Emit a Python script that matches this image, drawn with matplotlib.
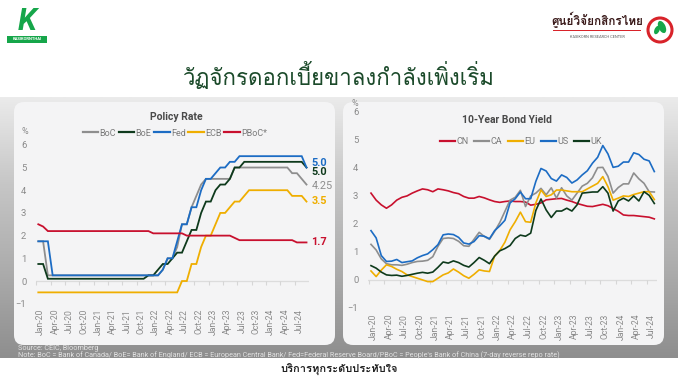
import numpy as np
import matplotlib
matplotlib.use("Agg")
import matplotlib.pyplot as plt
from matplotlib.patches import FancyBboxPatch, Rectangle, Circle, Ellipse
from matplotlib.colors import LinearSegmentedColormap
from matplotlib import font_manager as fm

# ---------------- data ----------------
tick_labels = ["Jan-20", "Apr-20", "Jul-20", "Oct-20", "Jan-21", "Apr-21", "Jul-21",
               "Oct-21", "Jan-22", "Apr-22", "Jul-22", "Oct-22", "Jan-23", "Apr-23",
               "Jul-23", "Oct-23", "Jan-24", "Apr-24", "Jul-24"]

# Policy rates, monthly Jan-20 .. Sep-24 (%)
boc = [1.75, 1.75, 0.25, 0.25, 0.25, 0.25, 0.25, 0.25, 0.25, 0.25,
       0.25, 0.25, 0.25, 0.25, 0.25, 0.25, 0.25, 0.25, 0.25, 0.25,
       0.25, 0.25, 0.25, 0.25, 0.25, 0.25, 0.5, 1.0, 1.0, 1.5,
       2.5, 2.5, 3.25, 3.75, 4.25, 4.5, 4.5, 4.5, 4.5, 4.5,
       4.5, 5.0, 5.0, 5.0, 5.0, 5.0, 5.0, 5.0, 5.0, 5.0,
       5.0, 5.0, 5.0, 4.75, 4.75, 4.5, 4.25]
boe = [0.75, 0.75, 0.1, 0.1, 0.1, 0.1, 0.1, 0.1, 0.1, 0.1,
       0.1, 0.1, 0.1, 0.1, 0.1, 0.1, 0.1, 0.1, 0.1, 0.1,
       0.1, 0.1, 0.1, 0.25, 0.25, 0.5, 0.75, 0.75, 1.0, 1.25,
       1.25, 1.75, 2.25, 2.25, 3.0, 3.5, 3.5, 4.0, 4.25, 4.25,
       4.5, 5.0, 5.0, 5.25, 5.25, 5.25, 5.25, 5.25, 5.25, 5.25,
       5.25, 5.25, 5.25, 5.25, 5.25, 5.25, 5.0]
fed = [1.75, 1.75, 1.75, 0.25, 0.25, 0.25, 0.25, 0.25, 0.25, 0.25,
       0.25, 0.25, 0.25, 0.25, 0.25, 0.25, 0.25, 0.25, 0.25, 0.25,
       0.25, 0.25, 0.25, 0.25, 0.25, 0.25, 0.5, 1.0, 1.0, 1.75,
       2.5, 2.5, 3.25, 3.25, 4.0, 4.5, 4.5, 4.75, 5.0, 5.0,
       5.25, 5.25, 5.5, 5.5, 5.5, 5.5, 5.5, 5.5, 5.5, 5.5,
       5.5, 5.5, 5.5, 5.5, 5.5, 5.5, 5.0]
ecb = [-0.5, -0.5, -0.5, -0.5, -0.5, -0.5, -0.5, -0.5, -0.5, -0.5,
       -0.5, -0.5, -0.5, -0.5, -0.5, -0.5, -0.5, -0.5, -0.5, -0.5,
       -0.5, -0.5, -0.5, -0.5, -0.5, -0.5, -0.5, -0.5, -0.5, -0.5,
       0.0, 0.0, 0.75, 0.75, 1.5, 2.0, 2.0, 2.5, 3.0, 3.0,
       3.25, 3.5, 3.5, 3.75, 4.0, 4.0, 4.0, 4.0, 4.0, 4.0,
       4.0, 4.0, 4.0, 3.75, 3.75, 3.75, 3.5]
pboc = [2.5, 2.4, 2.2, 2.2, 2.2, 2.2, 2.2, 2.2, 2.2, 2.2,
        2.2, 2.2, 2.2, 2.2, 2.2, 2.2, 2.2, 2.2, 2.2, 2.2,
        2.2, 2.2, 2.2, 2.2, 2.1, 2.1, 2.1, 2.1, 2.1, 2.1,
        2.1, 2.0, 2.0, 2.0, 2.0, 2.0, 2.0, 2.0, 2.0, 2.0,
        2.0, 1.9, 1.8, 1.8, 1.8, 1.8, 1.8, 1.8, 1.8, 1.8,
        1.8, 1.8, 1.8, 1.8, 1.7, 1.7, 1.7]
policy_names = ["BoC", "BoE", "Fed", "ECB", "PBoC*"]
policy_end_labels = ["4.25", "5.0", "5.0", "3.5", "1.7"]

# 10-year bond yields, monthly Jan-20 .. Aug-24 (%)
cn = [3.10, 2.85, 2.68, 2.56, 2.68, 2.85, 2.95, 3.00, 3.10, 3.18,
      3.25, 3.22, 3.15, 3.25, 3.22, 3.18, 3.12, 3.08, 2.98, 2.92,
      2.92, 2.98, 2.93, 2.86, 2.80, 2.77, 2.80, 2.82, 2.80, 2.80,
      2.78, 2.67, 2.70, 2.75, 2.86, 2.88, 2.90, 2.91, 2.85, 2.80,
      2.73, 2.68, 2.63, 2.62, 2.66, 2.70, 2.65, 2.55, 2.45, 2.32,
      2.30, 2.30, 2.28, 2.26, 2.24, 2.18]
ca = [1.27, 1.07, 0.75, 0.58, 0.54, 0.54, 0.52, 0.56, 0.62, 0.66,
      0.67, 0.70, 0.83, 1.20, 1.48, 1.50, 1.48, 1.38, 1.22, 1.20,
      1.45, 1.70, 1.55, 1.45, 1.73, 2.05, 2.45, 2.85, 2.95, 3.20,
      2.62, 3.00, 3.10, 3.27, 3.04, 3.29, 2.92, 3.29, 3.00, 2.85,
      3.10, 3.35, 3.45, 3.65, 4.01, 4.02, 3.70, 3.10, 3.30, 3.43,
      3.43, 3.82, 3.61, 3.45, 3.15, 3.14]
eu = [0.32, 0.12, 0.35, 0.54, 0.48, 0.38, 0.30, 0.18, 0.12, 0.06,
      0.00, -0.06, -0.06, 0.06, 0.18, 0.25, 0.39, 0.28, 0.15, 0.06,
      0.20, 0.36, 0.32, 0.30, 0.85, 1.05, 1.35, 1.79, 2.08, 2.42,
      2.08, 2.06, 2.75, 3.21, 2.98, 3.04, 3.21, 3.21, 3.18, 3.15,
      3.15, 3.15, 3.25, 3.35, 3.45, 3.69, 3.33, 2.85, 2.92, 3.00,
      2.98, 3.05, 3.10, 3.15, 3.15, 2.87]
us = [1.76, 1.50, 0.87, 0.66, 0.67, 0.73, 0.62, 0.65, 0.68, 0.79,
      0.87, 0.93, 1.08, 1.26, 1.61, 1.64, 1.62, 1.52, 1.32, 1.28,
      1.37, 1.58, 1.56, 1.47, 1.76, 1.93, 2.13, 2.75, 2.90, 3.14,
      2.90, 2.90, 3.52, 3.98, 3.89, 3.62, 3.53, 3.75, 3.66, 3.46,
      3.57, 3.75, 3.90, 4.17, 4.38, 4.80, 4.50, 4.02, 4.06, 4.21,
      4.21, 4.54, 4.48, 4.31, 4.25, 3.87]
uk = [0.51, 0.42, 0.28, 0.18, 0.16, 0.17, 0.13, 0.16, 0.20, 0.24,
      0.27, 0.24, 0.28, 0.45, 0.64, 0.60, 0.68, 0.62, 0.52, 0.46,
      0.62, 0.80, 0.70, 0.58, 0.85, 1.04, 1.12, 1.23, 1.48, 1.60,
      1.56, 1.67, 2.48, 2.89, 2.50, 2.23, 2.46, 2.46, 2.56, 2.46,
      2.68, 3.10, 3.12, 3.14, 3.14, 3.33, 3.10, 2.46, 2.82, 2.92,
      2.82, 3.00, 2.82, 3.15, 3.02, 2.73]
bond_names = ["CN", "CA", "EU", "US", "UK"]

# ---------------- fonts ----------------
def find_thai_font():
    try:
        from fontTools.ttLib import TTFont
    except Exception:
        return None
    seen = set()
    for f in fm.fontManager.ttflist:
        if f.fname in seen:
            continue
        seen.add(f.fname)
        try:
            tt = TTFont(f.fname, fontNumber=0, lazy=True)
            cm = tt.getBestCmap()
            if cm and 0x0E01 in cm and 0x0E27 in cm and 0x0E49 in cm:
                return f.name
        except Exception:
            continue
    return None

thai = find_thai_font()
thai_family = [thai, "DejaVu Sans"] if thai else ["DejaVu Sans"]
latin = ["Roboto", "DejaVu Sans"]
plt.rcParams["font.family"] = latin

# ---------------- style ----------------
C_GRAY = "#8e8e8e"
C_DARK = "#0e3a1c"
C_BLUE = "#1c6cc4"
C_GOLD = "#efae00"
C_RED = "#c8102e"
TICK_C = "#8a8a8a"

W, H = 678, 382
fig = plt.figure(figsize=(W / 100, H / 100), dpi=100)


def rect(l, t, r, b):
    return [l / W, 1 - b / H, (r - l) / W, (b - t) / H]


bg = fig.add_axes([0, 0, 1, 1])
grad = np.linspace(0, 1, 256).reshape(-1, 1)
cmap = LinearSegmentedColormap.from_list("bg", ["#ebebeb", "#c6c6c6", "#acacac", "#8e8e8e"])
bg.imshow(grad, extent=(0, W, 358, 97), cmap=cmap, aspect="auto", zorder=0)
bg.set_xlim(0, W)
bg.set_ylim(H, 0)
bg.axis("off")

for x0 in (14, 343):
    bg.add_patch(FancyBboxPatch((x0, 102), 321, 243,
                                boxstyle="round,pad=0,rounding_size=10",
                                fc="#f4f4f5", ec="none", zorder=1))

# header
bg.text(339, 76, "วัฏจักรดอกเบี้ยขาลงกำลังเพิ่งเริ่ม", ha="center", va="center",
        fontsize=16, color="#1b4a2a", family=thai_family, zorder=3)
# left logo
bg.text(27, 21, "K", ha="center", va="center", fontsize=22, fontweight="bold",
        color="#16a64a", style="italic", zorder=3)
bg.add_patch(Rectangle((7, 36), 40, 7, fc="#16a64a", ec="none", zorder=3))
bg.text(27, 39.5, "KASIKORNTHAI", ha="center", va="center", fontsize=3.0,
        fontweight="bold", color="white", zorder=4)
# right logo
bg.text(597, 20, "ศูนย์วิจัยกสิกรไทย", ha="center", va="center", fontsize=8.5,
        color="#3a1a1a", fontweight="bold", family=thai_family, zorder=3)
bg.add_patch(Rectangle((553, 29.5), 88, 1.2, fc="#d8232a", ec="none", zorder=3))
bg.text(597, 37, "KASIKORN RESEARCH CENTER", ha="center", va="center",
        fontsize=2.8, color="#555555", zorder=3)
bg.add_patch(Circle((660, 30), 12, fc="white", ec="#d8232a", lw=2.2, zorder=3))
bg.add_patch(Ellipse((662, 27), 7, 13, angle=-25, fc="#16a64a", ec="none", zorder=4))
bg.add_patch(Ellipse((657, 30), 5, 9, angle=25, fc="#16a64a", ec="none", zorder=4))

# footer texts
bg.text(18, 349, "Source: CEIC, Bloomberg", fontsize=5.2, color="#e2e2e2",
        va="center", zorder=3)
bg.text(18, 355.5, "Note: BoC = Bank of Canada/ BoE= Bank of England/ ECB = European Central Bank/ "
        "Fed=Federal Reserve Board/PBoC = People's Bank of China (7-day reverse repo rate)",
        fontsize=5.2, color="#e2e2e2", va="center", zorder=3)
bg.text(339, 370, "บริการทุกระดับประทับใจ", ha="center", va="center", fontsize=8,
        fontweight="bold", color="#222222", family=thai_family, zorder=3)

# chart titles and % labels
bg.text(176, 117, "Policy Rate", ha="center", va="center", fontsize=7.5,
        fontweight="bold", color="#4a4a4a", zorder=3)
bg.text(507, 120, "10-Year Bond Yield", ha="center", va="center", fontsize=7.5,
        fontweight="bold", color="#4a4a4a", zorder=3)
bg.text(25, 131, "%", ha="center", va="center", fontsize=6.5, color=TICK_C, zorder=3)
bg.text(355, 104, "%", ha="center", va="center", fontsize=6.5, color=TICK_C, zorder=3)


def style_axis(ax, ylo, yhi):
    ax.set_facecolor("none")
    for s in ax.spines.values():
        s.set_visible(False)
    ax.set_ylim(ylo, yhi)
    ax.set_yticks(range(-1, 7))
    ax.tick_params(axis="y", length=0, labelsize=6.8, labelcolor=TICK_C, pad=7)
    ax.set_xticks(np.arange(0, 3 * len(tick_labels), 3) + 0.5)
    ax.set_xticklabels(tick_labels, rotation=90)
    ax.tick_params(axis="x", length=0, labelsize=6.2, labelcolor=TICK_C, pad=2)
    ax.axhline(0, color="#dcdcdc", lw=0.9, zorder=0)
    frac = (0 - ylo) / (yhi - ylo)
    sec = ax.secondary_xaxis(frac)
    sec.set_xticks(np.arange(0, 3 * len(tick_labels) + 3, 3) - 0.45)
    sec.tick_params(length=3, width=0.8, color="#d6d6d6", labelbottom=False)
    sec.spines["bottom"].set_visible(False)


# ---------------- left chart ----------------
axL = fig.add_axes(rect(36, 138, 309, 306))
xp = np.arange(len(fed))
policy_series = [boc, boe, fed, ecb, pboc]
policy_colors = [C_GRAY, C_DARK, C_BLUE, C_GOLD, C_RED]
for vals, col, name in zip(policy_series, policy_colors, policy_names):
    axL.plot(xp, vals, color=col, lw=1.3, label=name, solid_joinstyle="miter")
axL.set_xlim(-0.48, len(fed) - 0.48)
style_axis(axL, -1.10, 6.30)
leg = axL.legend(loc="center", bbox_to_anchor=(175 / W, 1 - 133 / H),
                 bbox_transform=fig.transFigure, ncol=5, frameon=False,
                 fontsize=6.5, handlelength=1.7, handletextpad=0.15,
                 columnspacing=0.3, labelcolor="#7a7a7a")
for h in leg.get_lines():
    h.set_linewidth(1.6)

# end labels (pixel nudges to avoid overlap)
end_offsets = {"BoC": -1.0, "BoE": -3.5, "Fed": 3.0, "ECB": 0.5, "PBoC*": 0.0}
end_weights = {"BoC": "normal", "BoE": "bold", "Fed": "bold", "ECB": "bold", "PBoC*": "bold"}
for vals, col, name, lab in zip(policy_series, policy_colors, policy_names, policy_end_labels):
    axL.annotate(lab, xy=(len(vals) - 1, vals[-1]), xycoords="data",
                 xytext=(3.5, end_offsets[name]), textcoords="offset points",
                 ha="left", va="center", fontsize=7.8, fontweight=end_weights[name],
                 color=col, annotation_clip=False)

# ---------------- right chart ----------------
axR = fig.add_axes(rect(368, 108, 657, 311))
xb = np.arange(len(us))
bond_series = [cn, ca, eu, us, uk]
bond_colors = [C_RED, C_GRAY, C_GOLD, C_BLUE, C_DARK]
for vals, col, name in zip(bond_series, bond_colors, bond_names):
    axR.plot(xb, vals, color=col, lw=1.2, label=name)
axR.set_xlim(-0.58, len(us) - 0.48)
style_axis(axR, -1.11, 6.14)
leg2 = axR.legend(loc="center", bbox_to_anchor=(521 / W, 1 - 142 / H),
                  bbox_transform=fig.transFigure, ncol=5, frameon=False,
                  fontsize=6.5, handlelength=1.7, handletextpad=0.15,
                  columnspacing=0.6, labelcolor="#7a7a7a")
for h in leg2.get_lines():
    h.set_linewidth(1.6)

fig.savefig("out.png", dpi=100)
